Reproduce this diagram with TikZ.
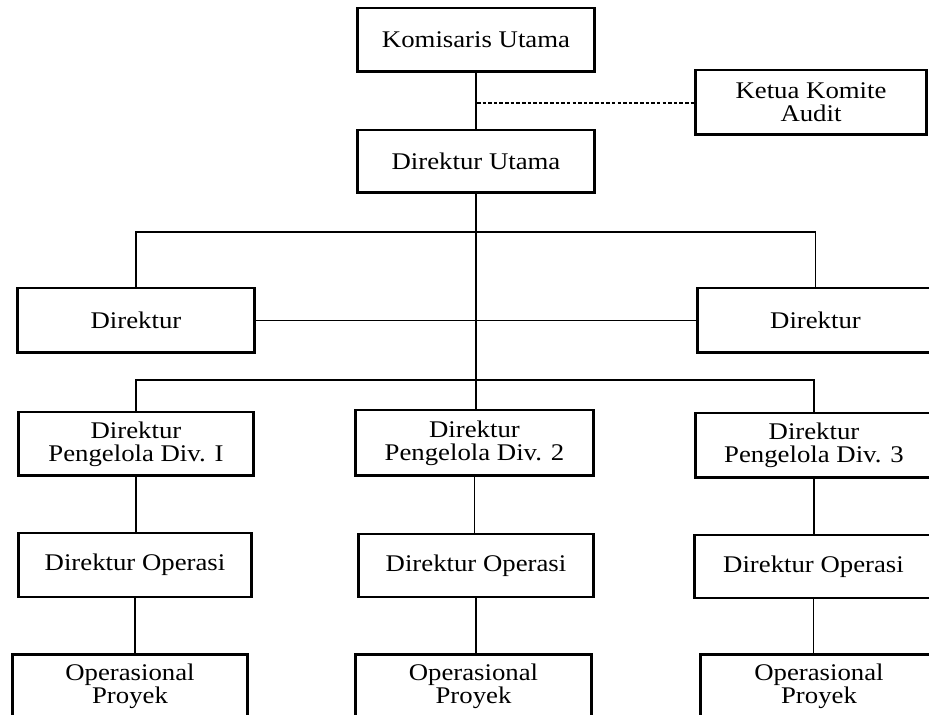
\documentclass[tikz,border=0pt]{standalone}
\usepackage{fontspec}
\setmainfont{Liberation Serif}[FakeStretch=1.12]
\begin{document}
\begin{tikzpicture}[x=0.02cm,y=-0.02cm,
  box/.style={draw, line width=1.7pt, align=center, inner sep=0pt,
    font=\fontsize{13.6pt}{13pt}\selectfont},
  conn/.style={line width=1.1pt},
  dashconn/.style={line width=1pt, dash pattern=on 2pt off 1.2pt}]
\useasboundingbox (0,0) rectangle (929,715);
\fill[white] (0,0) rectangle (929,715);
\clip (0,0) rectangle (929,715);

\node[box, minimum width=4.76cm, minimum height=1.28cm] (kom) at (476,40) {Komisaris Utama};
\node[box, minimum width=4.64cm, minimum height=1.30cm] (ketua) at (811,102.5) {Ketua Komite\\Audit};
\node[box, minimum width=4.76cm, minimum height=1.26cm] (du) at (476,161.5) {Direktur Utama};

\node[box, minimum width=4.76cm, minimum height=1.30cm] (dirL) at (136,320.5) {Direktur};
\node[box, minimum width=4.74cm, minimum height=1.30cm] (dirR) at (815.5,320.5) {Direktur};

\node[box, minimum width=4.72cm, minimum height=1.28cm] (div1) at (136,444) {Direktur\\Pengelola Div. I};
\node[box, minimum width=4.78cm, minimum height=1.32cm] (div2) at (474.5,443) {Direktur\\Pengelola Div. 2};
\node[box, minimum width=4.76cm, minimum height=1.30cm] (div3) at (814,445.5) {Direktur\\Pengelola Div. 3};

\node[box, minimum width=4.68cm, minimum height=1.28cm] (ops1) at (135,565) {Direktur Operasi};
\node[box, minimum width=4.72cm, minimum height=1.26cm] (ops2) at (476,565.5) {Direktur Operasi};
\node[box, minimum width=4.78cm, minimum height=1.26cm] (ops3) at (813.5,566.5) {Direktur Operasi};

\node[box, minimum width=4.72cm, minimum height=1.28cm] (proj1) at (130,686) {Operasional\\Proyek};
\node[box, minimum width=4.74cm, minimum height=1.28cm] (proj2) at (473.5,686) {Operasional\\Proyek};
\node[box, minimum width=4.76cm, minimum height=1.28cm] (proj3) at (819,686) {Operasional\\Proyek};

\coordinate (dj) at (477,103);
\coordinate (bar1) at (476,232);
\coordinate (bar2) at (476,380);

\draw[conn] (kom.south) -- (du.north);
\draw[dashconn] (dj) -- (dj -| ketua.west);
\draw[conn] (du.south) -- (du.south |- div2.north);
\draw[conn] (dirL.north) |- (bar1) -| (dirR.north);
\draw[conn] (dirL.east) -- (dirR.west);
\draw[conn] (div1.north) |- (bar2) -| (div3.north);

\draw[conn] (div1.south) -- (div1.south |- ops1.north);
\draw[conn] (div2.south) -- (div2.south |- ops2.north);
\draw[conn] (div3.south) -- (div3.south |- ops3.north);

\draw[conn] (ops1.south) -- (ops1.south |- proj1.north);
\draw[conn] (ops2.south) -- (ops2.south |- proj2.north);
\draw[conn] (ops3.south) -- (ops3.south |- proj3.north);
\end{tikzpicture}
\end{document}
